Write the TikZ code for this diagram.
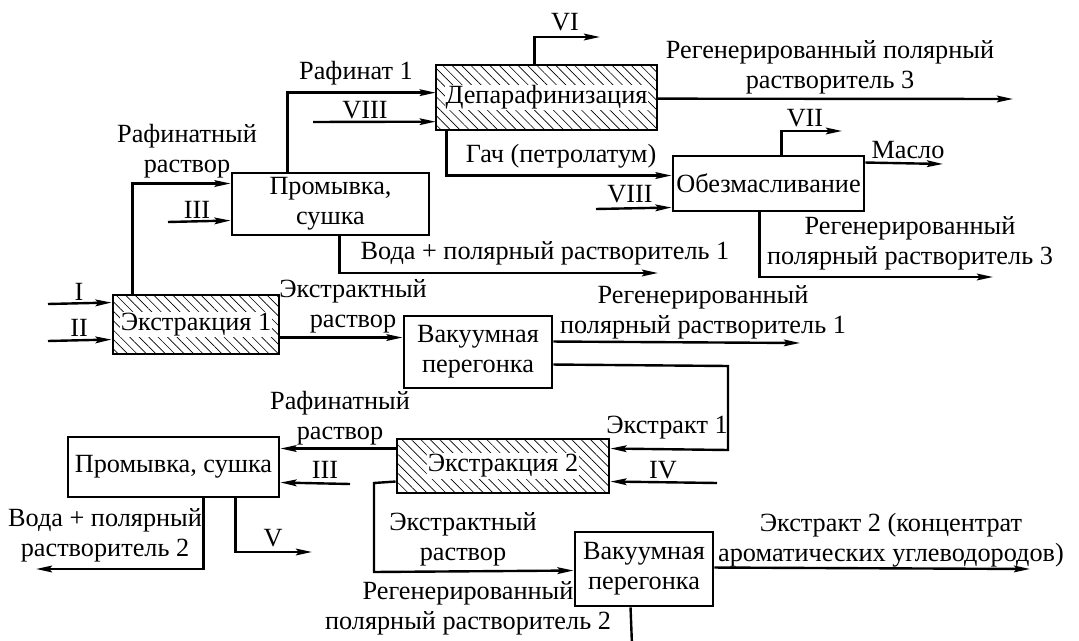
\documentclass[tikz,border=0pt]{standalone}
\usepackage{fontspec}
\setmainfont{Liberation Serif}
\usetikzlibrary{arrows.meta,patterns.meta,calc,fit}
\begin{document}
\begin{tikzpicture}[x=0.75pt,y=-0.75pt,
  box/.style={draw,line width=2.2pt,inner sep=0pt},
  hatched/.style={box,pattern={Lines[angle=-45,distance=5pt,line width=0.5pt]}},
  txt/.style={font=\fontsize{19.7}{22.5}\selectfont,inner sep=0pt,align=center},
  boxtxt/.style={txt,fill=white,inner sep=0.8pt},
  flow/.style={line width=1.8pt,-{Stealth[length=12pt,width=5pt,inset=2pt]}},
  plain/.style={line width=1.8pt}]
\useasboundingbox (0,0) rectangle (1079,641);
% boxes
\node[hatched,fit={(436,65)(657,130)}] (dep) {};
\node[boxtxt] (depT) at (dep.center) {Депарафинизация};
\node[box,fit={(232,173)(429,235)}] (prom1) {};
\node[txt] (prom1T) at (prom1.center) {Промывка,\\сушка};
\node[box,fit={(673,156)(864,211)}] (obez) {};
\node[txt] (obezT) at (obez.center) {Обезмасливание};
\node[hatched,fit={(113,295)(279,354)}] (ext1) {};
\node[boxtxt] (ext1T) at (ext1.center) {Экстракция 1};
\node[box,fit={(404,316)(552,388)}] (vak1) {};
\node[txt] (vak1T) at (vak1.center) {Вакуумная\\перегонка};
\node[hatched,fit={(397,439)(609,493)}] (ext2) {};
\node[boxtxt] (ext2T) at (ext2.center) {Экстракция 2};
\node[box,fit={(68,437)(279,497)}] (prom2) {};
\node[txt] (prom2T) at (prom2.center) {Промывка, сушка};
\node[box,fit={(575,532)(713,606)}] (vak2) {};
\node[txt] (vak2T) at (vak2.center) {Вакуумная\\перегонка};
% free ends
\coordinate (viE) at (600,37);
\coordinate (rec3aE) at (1013,99);
\coordinate (viiiA) at (313,122);
\coordinate (viiiB) at (596,209);
\coordinate (viiE) at (842,131);
\coordinate (masloE) at (943,164);
\coordinate (rec3bE) at (993,277);
\coordinate (iiiA) at (168,222);
\coordinate (voda1E) at (658,273);
\coordinate (iS) at (48,304);
\coordinate (iiS) at (48,341);
\coordinate (rec1E) at (800,343);
\coordinate (bendA) at (728,366);
\coordinate (bendB) at (728,450);
\coordinate (ivS) at (717,483);
\coordinate (iiiB) at (350,484);
\coordinate (voda2E) at (36,569);
\coordinate (vE) at (312,552);
\coordinate (bendC) at (374,483);
\coordinate (bendD) at (374,572);
\coordinate (ext2E) at (1030,569);
\coordinate (botE) at (632,645);
% connectors
\draw[flow] ($(dep.north west)+(99,0)$) |- (viE);
\draw[flow] ($(prom1.north west)+(57,0)$) |- ($(dep.north west)+(0,28)$);
\draw[flow] (viiiA) -- ($(dep.north west)+(0,57)$);
\draw[flow] ($(dep.north east)+(0,34)$) -- (rec3aE);
\draw[flow] ($(dep.south west)+(11,0)$) |- ($(obez.north west)+(0,21)$);
\draw[flow] (viiiB) -- ($(obez.north west)+(0,53)$);
\draw[flow] ($(obez.north west)+(110,0)$) |- (viiE);
\draw[flow] ($(obez.north east)+(0,8)$) -- (masloE);
\draw[flow] ($(obez.south west)+(88,0)$) |- (rec3bE);
\draw[flow] ($(ext1.north west)+(21,0)$) |- ($(prom1.north west)+(0,12)$);
\draw[flow] (iiiA) -- ($(prom1.north west)+(0,49)$);
\draw[flow] ($(prom1.south west)+(109,0)$) |- (voda1E);
\draw[flow] (iS) -- ($(ext1.north west)+(0,9)$);
\draw[flow] (iiS) -- ($(ext1.north west)+(0,46)$);
\draw[flow] ($(ext1.north east)+(0,44)$) -- ($(vak1.north west)+(0,23)$);
\draw[flow] ($(vak1.north east)+(0,27)$) -- (rec1E);
\draw[flow] ($(vak1.north east)+(0,50)$) -- (bendA) -- (bendB) -- ($(ext2.north east)+(0,11)$);
\draw[flow] (ivS) -- ($(ext2.north east)+(0,44)$);
\draw[flow] ($(ext2.north west)+(0,11)$) -- ($(prom2.north east)+(0,13)$);
\draw[flow] (iiiB) -- ($(prom2.north east)+(0,47)$);
\draw[flow] ($(prom2.south west)+(137,0)$) |- (voda2E);
\draw[flow] ($(prom2.south west)+(169,0)$) |- (vE);
\draw[flow] ($(ext2.north west)+(0,44)$) -- (bendC) -- (bendD) -- ($(vak2.north west)+(0,40)$);
\draw[flow] ($(vak2.north east)+(0,37)$) -- (ext2E);
\draw[plain] ($(vak2.south west)+(57,0)$) -- (botE);
% labels
\node[txt] (lVI) at (565,22) {VI};
\node[txt] (lRaf1) at (356,73) {Рафинат 1};
\node[txt] (lVIIIa) at (365,110) {VIII};
\node[txt] (lRec3a) at (830,67) {Регенерированный полярный\\растворитель 3};
\node[txt] (lGach) at (561,156) {Гач (петролатум)};
\node[txt] (lVIIIb) at (630,194) {VIII};
\node[txt] (lVII) at (805,118) {VII};
\node[txt] (lMaslo) at (908,150) {Масло};
\node[txt] (lRec3b) at (910,243) {Регенерированный\\полярный растворитель 3};
\node[txt] (lRafR1) at (187,151) {Рафинатный\\раствор};
\node[txt] (lIIIa) at (197,210) {III};
\node[txt] (lVoda1) at (545,253) {Вода + полярный растворитель 1};
\node[txt] (lI) at (79,292) {I};
\node[txt] (lII) at (79,328) {II};
\node[txt] (lExtR1) at (353,306) {Экстрактный\\раствор};
\node[txt] (lRec1) at (703,312) {Регенерированный\\полярный растворитель 1};
\node[txt] (lExt1) at (667,428) {Экстракт 1};
\node[txt] (lIV) at (663,470) {IV};
\node[txt] (lRafR2) at (340,418) {Рафинатный\\раствор};
\node[txt] (lIIIb) at (325,470) {III};
\node[txt] (lVoda2) at (105,535) {Вода + полярный\\растворитель 2};
\node[txt] (lV) at (273,538) {V};
\node[txt] (lExtR2) at (463,539) {Экстрактный\\раствор};
\node[txt] (lExt2) at (891,540) {Экстракт 2 (концентрат\\ароматических углеводородов)};
\node[txt] (lRec2) at (468,608) {Регенерированный\\полярный растворитель 2};
\end{tikzpicture}
\end{document}
